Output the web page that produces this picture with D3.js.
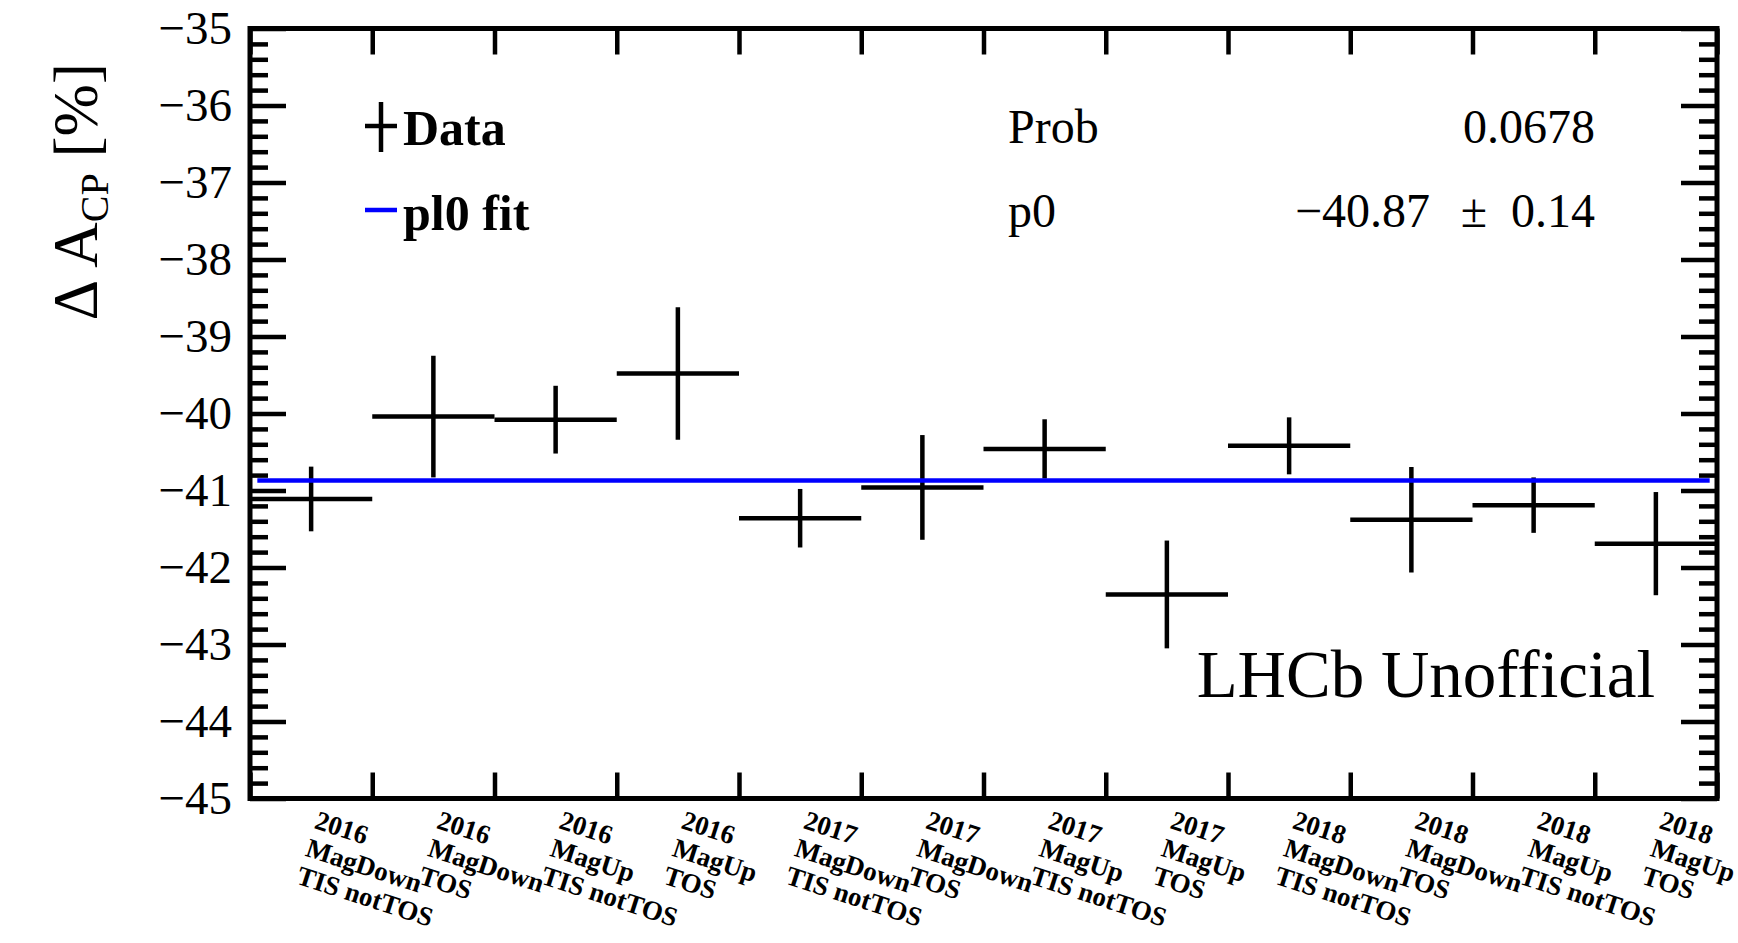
<!DOCTYPE html>
<html>
<head>
<meta charset="utf-8">
<script src="https://cdn.jsdelivr.net/npm/d3@7"></script>
<style>
  html, body { margin: 0; padding: 0; background: #fff; }
  svg { display: block; }
</style>
</head>
<body>
<div id="chart"></div>
<script>
// ---------------- data ----------------
const yearLabels  = ["2016","2016","2016","2016","2017","2017","2017","2017","2018","2018","2018","2018"];
const magLabels   = ["MagDown","MagDown","MagUp","MagUp","MagDown","MagDown","MagUp","MagUp","MagDown","MagDown","MagUp","MagUp"];
const trigLabels  = ["TIS notTOS","TOS","TIS notTOS","TOS","TIS notTOS","TOS","TIS notTOS","TOS","TIS notTOS","TOS","TIS notTOS","TOS"];
const values      = [-41.11, -40.04, -40.08, -39.48, -41.36, -40.96, -40.46, -42.35, -40.42, -41.38, -41.19, -41.69];
const errors      = [0.42, 0.79, 0.44, 0.86, 0.38, 0.68, 0.385, 0.70, 0.37, 0.685, 0.36, 0.67];
const fitValue    = -40.87;
const fitRange    = [0.06, 11.94];
const yDomain     = [-45, -35];
const yMajorTicks = d3.range(-45, -34, 1);
const yMinorTicks = d3.range(-45, -35, 0.2).map(v => +v.toFixed(1)).filter(v => !Number.isInteger(v));
const statNames   = ["Prob", "p0"];
const statValues  = ["0.0678", "\u221240.87"];
const statErrors  = ["", "0.14"];
const legendNames = ["Data", "pl0 fit"];

// ---------------- layout ----------------
const W = 1738, H = 943;
const L = 250, R = 1717, T = 28.5, B = 798.5;
const serif = "'Liberation Serif', 'Times New Roman', serif";

const svg = d3.select("#chart").append("svg").attr("width", W).attr("height", H);

const x = d3.scaleLinear().domain([0, values.length]).range([L, R]);
const y = d3.scaleLinear().domain(yDomain).range([B, T]);

// ---------------- axes ----------------
function styleAxis(g) {
  g.select(".domain").remove();
  g.selectAll(".tick line").attr("stroke", "#000").attr("stroke-width", 4.5);
  g.selectAll("text").attr("font-family", serif).attr("font-size", 47).attr("fill", "#000");
}
svg.append("g").attr("transform", `translate(${L},0)`)
  .call(d3.axisLeft(y).tickValues(yMajorTicks).tickSize(-36).tickSizeOuter(0).tickPadding(18).tickFormat(d3.format("d")))
  .call(styleAxis);
svg.append("g").attr("transform", `translate(${L},0)`)
  .call(d3.axisLeft(y).tickValues(yMinorTicks).tickSize(-18).tickSizeOuter(0).tickFormat(""))
  .call(styleAxis);
svg.append("g").attr("transform", `translate(${R},0)`)
  .call(d3.axisRight(y).tickValues(yMajorTicks).tickSize(-36).tickSizeOuter(0).tickFormat(""))
  .call(styleAxis);
svg.append("g").attr("transform", `translate(${R},0)`)
  .call(d3.axisRight(y).tickValues(yMinorTicks).tickSize(-18).tickSizeOuter(0).tickFormat(""))
  .call(styleAxis);
svg.append("g").attr("transform", `translate(0,${B})`)
  .call(d3.axisBottom(x).tickValues(d3.range(0, values.length + 1)).tickSize(-26).tickSizeOuter(0).tickFormat(""))
  .call(styleAxis);
svg.append("g").attr("transform", `translate(0,${T})`)
  .call(d3.axisTop(x).tickValues(d3.range(0, values.length + 1)).tickSize(-26).tickSizeOuter(0).tickFormat(""))
  .call(styleAxis);

// frame
svg.append("rect").attr("x", L).attr("y", T).attr("width", R - L).attr("height", B - T)
  .attr("fill", "none").attr("stroke", "#000").attr("stroke-width", 5);

// ---------------- x labels ----------------
const xl = svg.append("g");
values.forEach((v, i) => {
  const t = xl.append("text")
    .attr("transform", `translate(${x(i + 0.5) + 2},828) rotate(18)`)
    .attr("font-family", serif).attr("font-weight", "bold").attr("font-size", 27).attr("fill", "#000");
  [yearLabels[i], magLabels[i], trigLabels[i]].forEach((s, k) => {
    t.append("tspan").attr("x", 0).attr("y", k * 29).text(s);
  });
});

// ---------------- data (error bars) ----------------
const data = values.map((v, i) => ({ i, v, e: errors[i] }));
const gd = svg.append("g").attr("stroke", "#000").attr("stroke-width", 4.5);
gd.selectAll("line.h").data(data).join("line").attr("class", "h")
  .attr("x1", d => x(d.i)).attr("x2", d => x(d.i + 1))
  .attr("y1", d => y(d.v)).attr("y2", d => y(d.v));
gd.selectAll("line.v").data(data).join("line").attr("class", "v")
  .attr("x1", d => x(d.i + 0.5)).attr("x2", d => x(d.i + 0.5))
  .attr("y1", d => y(d.v + d.e)).attr("y2", d => y(d.v - d.e));

// ---------------- fit line ----------------
svg.append("line")
  .attr("x1", x(fitRange[0])).attr("x2", x(fitRange[1]))
  .attr("y1", y(fitValue)).attr("y2", y(fitValue))
  .attr("stroke", "#0000ff").attr("stroke-width", 4.5);

// ---------------- y axis title ----------------
const yt = svg.append("text")
  .attr("transform", "translate(97,63) rotate(-90)")
  .attr("text-anchor", "end")
  .attr("font-family", serif).attr("font-size", 63).attr("fill", "#000");
yt.append("tspan").text("\u0394 A");
yt.append("tspan").attr("font-size", 40).attr("dy", 11).text("CP");
yt.append("tspan").attr("dy", -11).text(" [%]");

// ---------------- legend ----------------
const lg = svg.append("g");
lg.append("line").attr("x1", 381).attr("x2", 381).attr("y1", 102).attr("y2", 152).attr("stroke", "#000").attr("stroke-width", 4.5);
lg.append("line").attr("x1", 365).attr("x2", 397).attr("y1", 126).attr("y2", 126).attr("stroke", "#000").attr("stroke-width", 4.5);
lg.append("line").attr("x1", 365).attr("x2", 397).attr("y1", 210).attr("y2", 210).attr("stroke", "#0000ff").attr("stroke-width", 4.5);
legendNames.forEach((n, k) => {
  lg.append("text").attr("x", 403).attr("y", 145 + k * 85)
    .attr("font-family", serif).attr("font-weight", "bold").attr("font-size", 50).attr("fill", "#000").text(n);
});

// ---------------- stats ----------------
const st = svg.append("g").attr("font-family", serif).attr("font-size", 48).attr("fill", "#000");
statNames.forEach((n, k) => {
  const by = 143 + k * 84;
  st.append("text").attr("x", 1008).attr("y", by).text(n);
  if (statErrors[k]) {
    st.append("text").attr("x", 1430).attr("y", by).attr("text-anchor", "end").text(statValues[k]);
    st.append("text").attr("x", 1474).attr("y", by).attr("text-anchor", "middle").text("\u00b1");
    st.append("text").attr("x", 1595).attr("y", by).attr("text-anchor", "end").text(statErrors[k]);
  } else {
    st.append("text").attr("x", 1595).attr("y", by).attr("text-anchor", "end").text(statValues[k]);
  }
});

// ---------------- LHCb label ----------------
svg.append("text").attr("x", 1655).attr("y", 697).attr("text-anchor", "end")
  .attr("font-family", serif).attr("font-size", 67).attr("fill", "#000").text("LHCb Unofficial");
</script>
</body>
</html>
